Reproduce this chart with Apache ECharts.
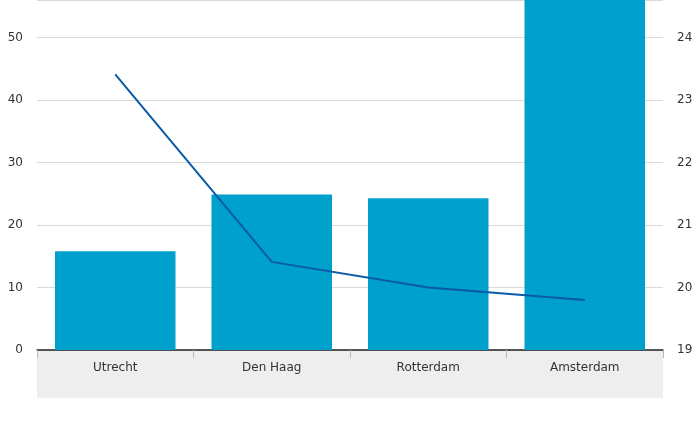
<!DOCTYPE html>
<html><head><meta charset="utf-8">
<script src="https://cdn.jsdelivr.net/npm/echarts@6/dist/echarts.min.js"></script>
<style>html,body{margin:0;padding:0;background:#fff}#c{width:700px;height:425px}</style>
</head><body><div id="c"></div>
<script>
const categories = ['Utrecht','Den Haag','Rotterdam','Amsterdam'];
const barValues = [15.8, 24.9, 24.3, 56];
const lineValues = [23.41, 20.41, 20.0, 19.8];
const chart = echarts.init(document.getElementById('c'));
chart.setOption({
  animation:false,
  graphic:[{type:'rect',shape:{x:37,y:351,width:626,height:47},style:{fill:'#eeeeee'},z:-1}],
  grid:{left:37,right:37,top:0,bottom:75},
  xAxis:{type:'category',data:categories,
    axisLine:{lineStyle:{color:'#222',width:1.5}},
    axisTick:{show:true,length:8,lineStyle:{color:'#bbb'}},
    axisLabel:{color:'#333',fontSize:12,fontFamily:'Verdana, DejaVu Sans',margin:12}},
  yAxis:[
    {type:'value',min:0,max:56,interval:10,
      axisLabel:{color:'#333',fontSize:12,fontFamily:'Verdana, DejaVu Sans',showMaxLabel:false,margin:14},
      splitLine:{lineStyle:{color:'#d9d9d9'}},axisLine:{show:false},axisTick:{show:false}},
    {type:'value',min:19,max:24.6,interval:1,
      axisLabel:{color:'#333',fontSize:12,fontFamily:'Verdana, DejaVu Sans',showMaxLabel:false,margin:14},
      splitLine:{show:false},axisLine:{show:false},axisTick:{show:false}}
  ],
  series:[
    {type:'bar',data:barValues,barWidth:'77%',itemStyle:{color:'#00a0cc'}},
    {type:'line',yAxisIndex:1,data:lineValues,symbol:'none',lineStyle:{color:'#0a5aa8',width:2},z:5}
  ]
});
</script></body></html>
